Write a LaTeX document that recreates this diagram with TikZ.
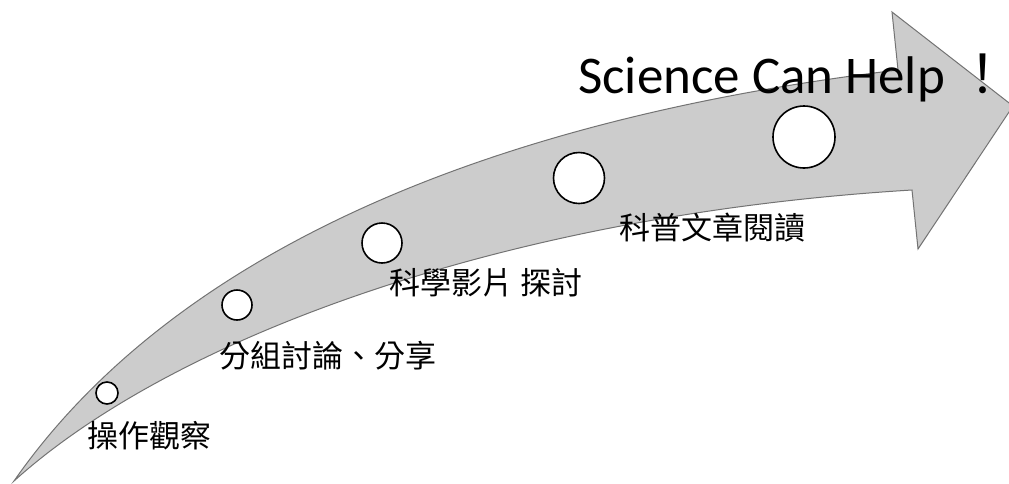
\documentclass[tikz,border=0pt]{standalone}
\usepackage{fontspec}
\setmainfont{Carlito}
\newfontfamily\cjk{Noto Sans CJK TC}
\usetikzlibrary{positioning}

\begin{document}
\begin{tikzpicture}[
    x=1pt, y=-1pt,
    arrowbody/.style={fill=black!20, draw=black!55, line width=1pt, line join=miter},
    stopnode/.style={circle, draw=black, fill=white, line width=1.6pt, inner sep=0pt},
    labelnode/.style={font=\cjk\fontsize{31}{31}\selectfont, inner sep=0pt},
    titlenode/.style={font=\fontsize{53}{53}\selectfont, inner sep=0pt, anchor=base west}
]
\useasboundingbox (0,0) rectangle (1009,483);

% Curved arrow
\draw[arrowbody] (14,481) .. controls (140,300) and (400,130) .. (898,70)
    -- (892,12) -- (1013,106) -- (918,249) -- (912,190)
    .. controls (500,215) and (170,340) .. (14,481) -- cycle;

% Stops along the arrow
\foreach \x/\y/\d/\n in {107/393/22/1, 237/305/30/2, 382/243/40/3, 579/178/51/4, 804/137/62/5} {
    \node[stopnode, minimum size=\d pt] (stop\n) at (\x,\y) {};
}

% Labels
\node[labelnode] (lab1) at (149,436) {操作觀察};
\node[labelnode] (lab2) at (328,356) {分組討論、分享};
\node[labelnode] (lab3) at (486,283) {科學影片 探討};
\node[labelnode] (lab4) at (712,228) {科普文章閱讀};

% Title
\node[titlenode] (title) at (578,93) {Science Can Help {\cjk ！}};

\end{tikzpicture}
\end{document}
